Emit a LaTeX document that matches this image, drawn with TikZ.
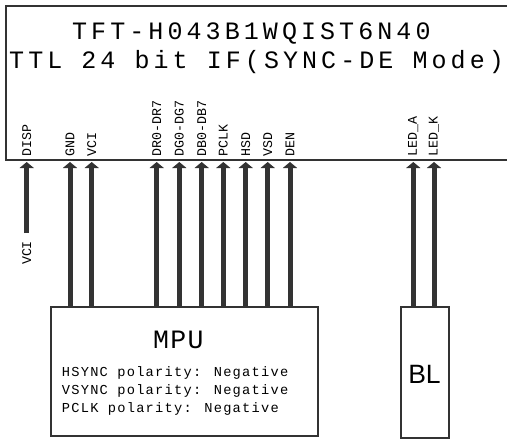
\documentclass[tikz,border=0pt]{standalone}
\usepackage{fontspec}
\setmainfont{Liberation Mono}
\newfontfamily\blfont{Liberation Sans}
\usetikzlibrary{arrows.meta}
\definecolor{ln}{HTML}{333333}
\tikzset{
  box/.style={draw=ln, line width=2pt},
  pin/.style={draw=ln, line width=5pt, -{Triangle[width=14pt,length=6pt]}},
  pinlabel/.style={rotate=90, anchor=west, inner sep=0pt, font=\fontsize{13.3}{14}\selectfont},
  txt/.style={anchor=base west, inner sep=0pt},
}
\begin{document}
\begin{tikzpicture}[x=1pt,y=-1pt]
\useasboundingbox (0,0) rectangle (507,439);
\clip (0,0) rectangle (507,439);
% LCD box (extends beyond right edge)
\draw[box] (6,6) rectangle (530,160);
\node[txt, font=\fontsize{25}{26}\selectfont\addfontfeature{LetterSpace=16.3}] (title1) at (72,39) {TFT-H043B1WQIST6N40};
\node[txt, font=\fontsize{25}{26}\selectfont\addfontfeature{LetterSpace=16.3}] (title2) at (9,68) {TTL 24 bit IF(SYNC-DE Mode)};
% pins on the LCD bottom edge
\foreach \n/\x in {DISP/26.7, GND/70, VCI/91.7, DR/156.7, DG/179.3, DB/201.7, PCLK/223.3, HSD/245.7, VSD/267.7, DEN/290, LEDA/413.3, LEDK/434}
  \coordinate (p\n) at (\x,162);
\foreach \n/\t in {DISP/DISP, GND/GND, VCI/VCI, DR/DR0-DR7, DG/DG0-DG7, DB/DB0-DB7, PCLK/PCLK, HSD/HSD, VSD/VSD, DEN/DEN, LEDA/LED\_A, LEDK/LED\_K}
  \node[pinlabel] (l\n) at ([yshift=5pt]p\n) {\t};
% MPU
\node[box, minimum width=267pt, minimum height=129pt, inner sep=0pt] (mpu) at (184.5,371.5) {};
\node[txt, font=\fontsize{26.5}{27}\selectfont\addfontfeature{LetterSpace=5}] (mputxt) at (153,348) {MPU};
\node[txt, font=\fontsize{13.7}{14}\selectfont\addfontfeature{LetterSpace=9}] (h1) at (61.7,376) {HSYNC polarity: Negative};
\node[txt, font=\fontsize{13.7}{14}\selectfont\addfontfeature{LetterSpace=9}] (h2) at (61.7,394) {VSYNC polarity: Negative};
\node[txt, font=\fontsize{13.7}{14}\selectfont\addfontfeature{LetterSpace=9}] (h3) at (61.7,412) {PCLK polarity: Negative};
% BL
\node[box, minimum width=48.6pt, minimum height=130.7pt, inner sep=0pt] (bl) at (425,372.7) {};
\node[anchor=base, inner sep=0pt, font=\blfont\fontsize{26.5}{27}\selectfont] (bltxt) at (424.5,383) {BL};
% DISP to VCI
\coordinate (vciend) at (26.7,233);
\draw[pin] (vciend) -- (pDISP);
\node[rotate=90, inner sep=0pt, font=\fontsize{13.3}{14}\selectfont] (vcil) at (26.7,253) {VCI};
% connectors
\foreach \n in {GND, VCI, DR, DG, DB, PCLK, HSD, VSD, DEN}
  \draw[pin] (p\n |- mpu.north) -- (p\n);
\foreach \n in {LEDA, LEDK}
  \draw[pin] (p\n |- bl.north) -- (p\n);
\end{tikzpicture}
\end{document}
